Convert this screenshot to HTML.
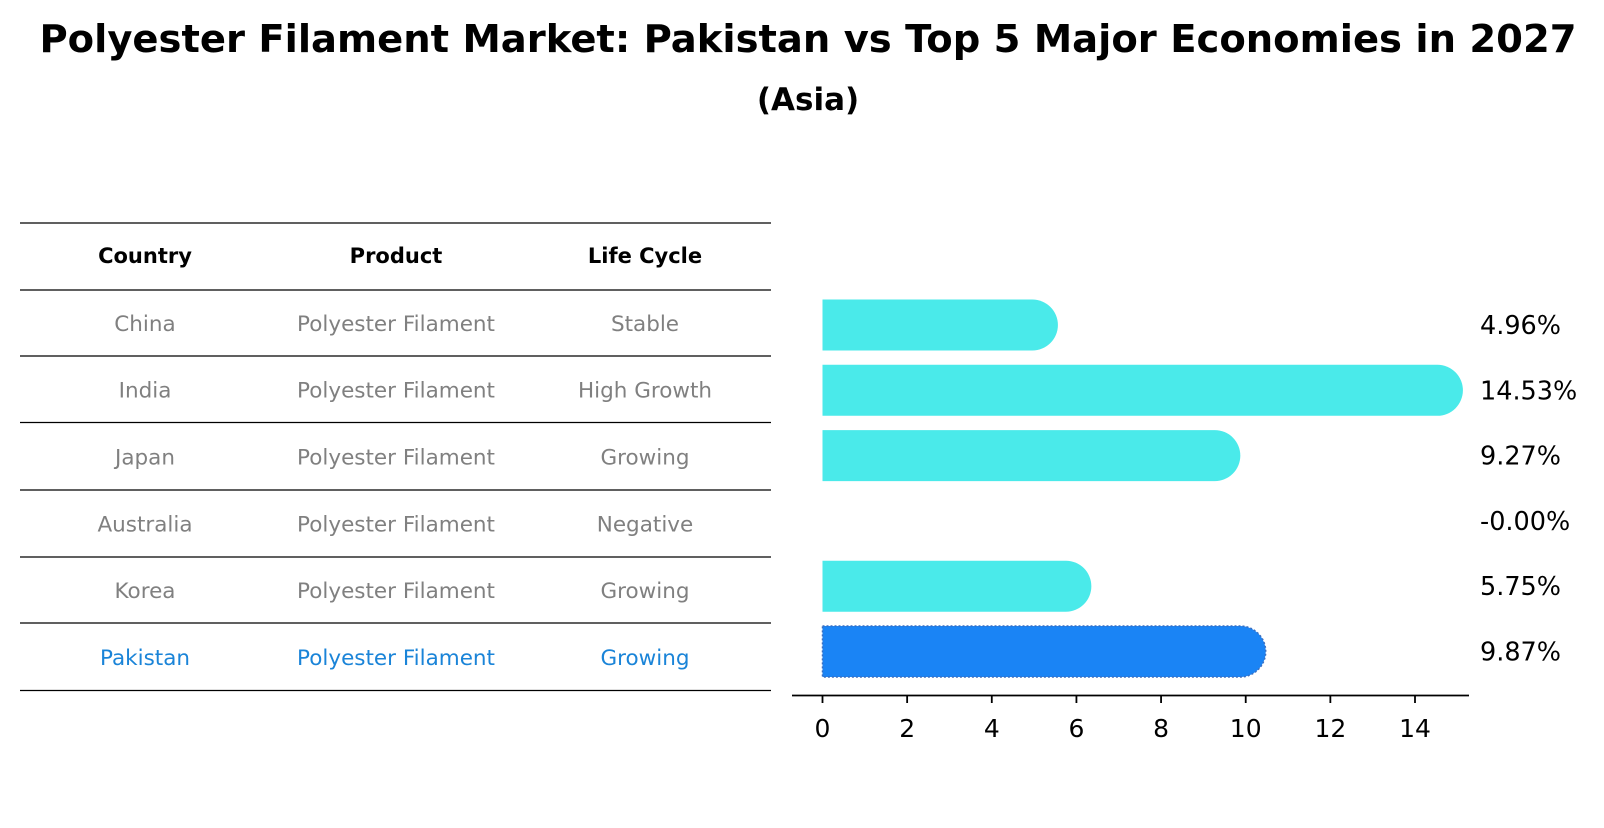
<!DOCTYPE html>
<html><head><meta charset="utf-8"><style>
body{margin:0;background:#fff;}
svg text{font-family:"DejaVu Sans","Liberation Sans",sans-serif;}
</style></head><body>
<svg width="1604" height="823" viewBox="0 0 1604 823" xmlns="http://www.w3.org/2000/svg">
<text x="808" y="52" text-anchor="middle" font-size="38.5" font-weight="bold">Polyester Filament Market: Pakistan vs Top 5 Major Economies in 2027</text>
<text x="808" y="110" text-anchor="middle" font-size="31" font-weight="bold">(Asia)</text>
<g id="table"></g>
<g id="bars"></g>
</svg>
<script>
const countries=["China","India","Japan","Australia","Korea","Pakistan"];
const products=["Polyester Filament","Polyester Filament","Polyester Filament","Polyester Filament","Polyester Filament","Polyester Filament"];
const lifecycles=["Stable","High Growth","Growing","Negative","Growing","Growing"];
const values=[4.96,14.53,9.27,0.00,5.75,9.87];
const valueLabels=["4.96%","14.53%","9.27%","-0.00%","5.75%","9.87%"];
const ticks=[0,2,4,6,8,10,12,14];
const NS="http://www.w3.org/2000/svg";
function mk(tag,attrs,parent){const e=document.createElementNS(NS,tag);for(const k in attrs)e.setAttribute(k,attrs[k]);parent.appendChild(e);return e;}
const tbl=document.getElementById('table');
const lineYs=[223,290,356,422.5,490,557,623,690.5];
lineYs.forEach((y,i)=>{const l=mk('line',{x1:20,x2:771,y1:y,y2:y,stroke:'#000','stroke-width':1.2},tbl);

});
const colX=[145,396,645];
["Country","Product","Life Cycle"].forEach((h,i)=>{const t=mk('text',{x:colX[i],y:263,'text-anchor':'middle','font-size':21,'font-weight':'bold'},tbl);t.textContent=h;

});
const rowY=i=>(lineYs[i+1]+lineYs[i+2])/2+8;
countries.forEach((c,i)=>{const col=i===5?'#1a84d8':'#808080';
[c,products[i],lifecycles[i]].forEach((v,j)=>{const t=mk('text',{x:colX[j],y:rowY(i),'text-anchor':'middle','font-size':21.5,fill:col},tbl);t.textContent=v;

});});
const g=document.getElementById('bars');
const x0=822.5,unit=(1415-822.5)/14;
const xs=v=>x0+v*unit;
const barY=i=>325+i*65.3;
const bh=51;
values.forEach((v,i)=>{const y=barY(i);
if(v>0){const col=i===5?'#1a84f5':'#4aeaea';
const w=xs(v)-x0;
const p=mk('path',{d:`M${x0},${y-bh/2} H${x0+w} A${bh/2},${bh/2} 0 0 1 ${x0+w},${y+bh/2} H${x0} Z`,fill:col},g);
if(i===5){p.setAttribute('stroke','#3b6fc0');p.setAttribute('stroke-width','1.5');p.setAttribute('stroke-dasharray','2,2');}

}
const t=mk('text',{x:1480,y:y+9,'font-size':25.5},g);t.textContent=valueLabels[i];

});
const ax=mk('line',{x1:792,x2:1469,y1:695.5,y2:695.5,stroke:'#000','stroke-width':1.8},g);


ticks.forEach(v=>{const tl=mk('line',{x1:xs(v),x2:xs(v),y1:695.5,y2:703,stroke:'#000','stroke-width':1.8},g);


const t=mk('text',{x:xs(v),y:737,'text-anchor':'middle','font-size':25},g);t.textContent=v;

});
</script>
</body></html>
